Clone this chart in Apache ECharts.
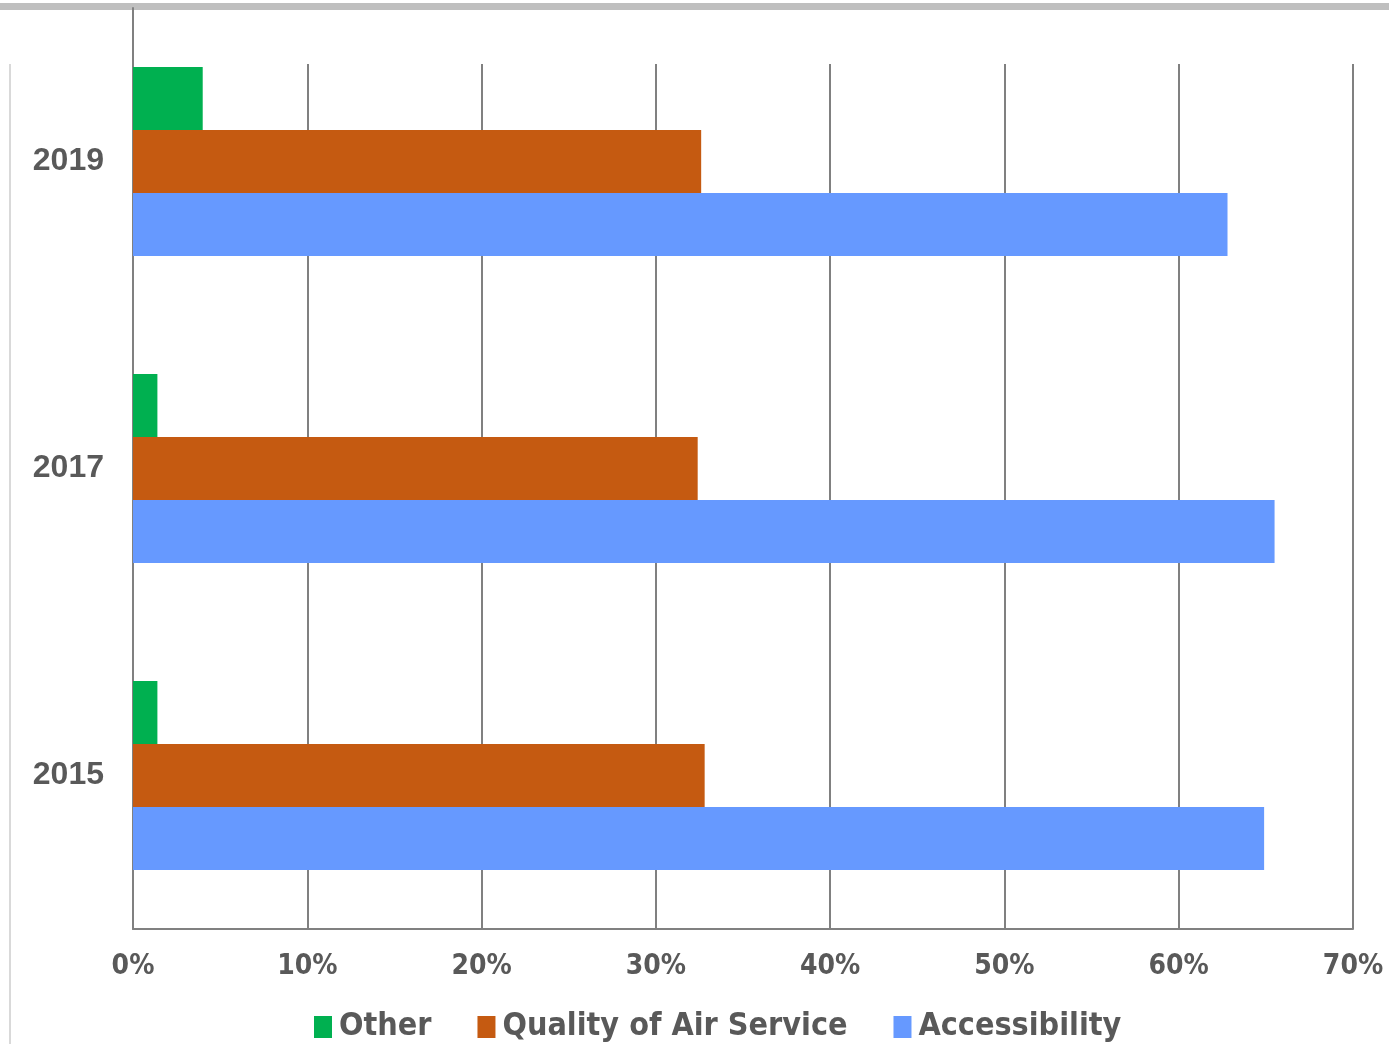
<!DOCTYPE html>
<html><head><meta charset="utf-8">
<script src="https://cdn.jsdelivr.net/npm/echarts@6/dist/echarts.min.js"></script>
<style>html,body{margin:0;padding:0;background:#fff}#c{width:1389px;height:1044px}</style>
</head><body><div id="c"></div>
<script>
const categories = ['2015', '2017', '2019'];
const seriesNames = ['Other', 'Quality of Air Service', 'Accessibility'];
const otherValues = [1.4, 1.4, 4.0];
const qualityValues = [32.8, 32.4, 32.6];
const accessibilityValues = [64.9, 65.5, 62.8];
const tickValues = [0, 10, 20, 30, 40, 50, 60, 70];

const narrow = "'Liberation Sans Narrow', 'DejaVu Sans Condensed', sans-serif";
const chart = echarts.init(document.getElementById('c'));
chart.setOption({
  animation: false,
  backgroundColor: '#fff',
  graphic: [
    { type: 'rect', shape: { x: 0, y: 3, width: 1389, height: 7 }, style: { fill: '#bfbfbf' }, silent: true },
    { type: 'rect', shape: { x: 9, y: 64, width: 2, height: 980 }, style: { fill: '#d9d9d9' }, silent: true }
  ],
  grid: [
    { left: 133, right: 36, top: 8, bottom: 115 },
    { left: 133, right: 36, top: 64, bottom: 115 }
  ],
  xAxis: [
    { type: 'value', gridIndex: 0, min: tickValues[0], max: tickValues[tickValues.length - 1], interval: 10,
      axisLine: { show: true, lineStyle: { color: '#808080', width: 2 } },
      axisTick: { show: false }, splitLine: { show: false },
      axisLabel: { formatter: v => v + '%', color: '#595959', fontSize: 28, fontWeight: 'bold', fontFamily: narrow, margin: 24 } },
    { type: 'value', gridIndex: 1, min: tickValues[0], max: tickValues[tickValues.length - 1], interval: 10,
      axisLine: { show: false }, axisTick: { show: false }, axisLabel: { show: false },
      splitLine: { show: true, lineStyle: { color: '#808080', width: 2 } } }
  ],
  yAxis: [
    { type: 'category', gridIndex: 0, data: categories,
      axisLine: { show: true, lineStyle: { color: '#808080', width: 2 } },
      axisTick: { show: false },
      axisLabel: { color: '#595959', fontSize: 32, fontWeight: 'bold', fontFamily: "'Liberation Sans', Arial, sans-serif", margin: 29 } },
    { type: 'value', gridIndex: 1, show: false }
  ],
  legend: {
    data: seriesNames, left: 309, top: 1006, itemWidth: 18, itemHeight: 22, itemGap: 46,
    icon: 'rect',
    textStyle: { color: '#595959', fontSize: 32, fontWeight: 'bold', fontFamily: narrow, padding: [0, 0, 0, 2] }
  },
  series: [
    { name: seriesNames[0], type: 'bar', data: otherValues, barWidth: 63, barGap: '0%', itemStyle: { color: '#00b050' } },
    { name: seriesNames[1], type: 'bar', data: qualityValues, barWidth: 63, barGap: '0%', itemStyle: { color: '#c55a11' } },
    { name: seriesNames[2], type: 'bar', data: accessibilityValues, barWidth: 63, barGap: '0%', itemStyle: { color: '#6699ff' } }
  ]
});
</script></body></html>
